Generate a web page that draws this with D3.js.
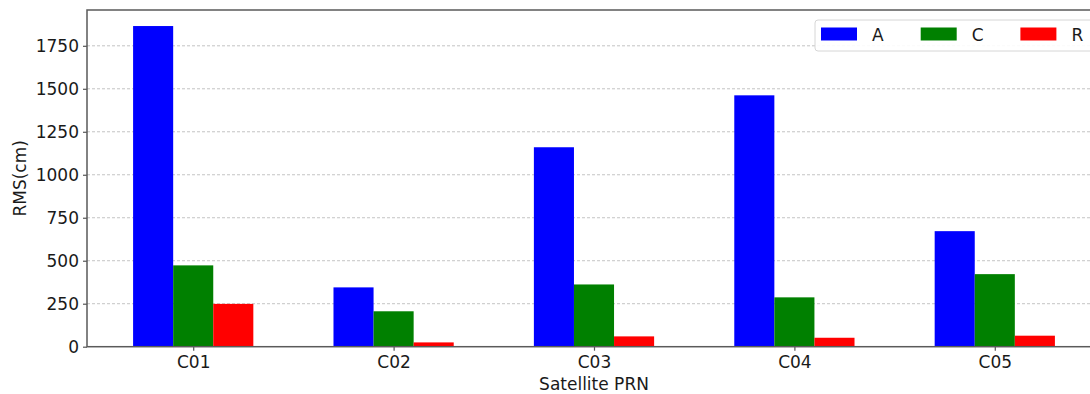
<!DOCTYPE html>
<html>
<head>
<meta charset="utf-8">
<script src="https://cdn.jsdelivr.net/npm/d3@7"></script>
<style>
  html, body { margin: 0; padding: 0; background: #fff; }
  svg { display: block; font-family: "DejaVu Sans", sans-serif; }
</style>
</head>
<body>
<svg id="chart" width="1090" height="394"></svg>
<script>
// RMS per satellite, in cm
const satellites = ["C01", "C02", "C03", "C04", "C05"];
const seriesNames = ["A", "C", "R"];
const seriesColors = ["#0000ff", "#008000", "#ff0000"];
const valuesA = [1865, 345, 1160, 1462, 672];
const valuesC = [473, 206, 362, 287, 422];
const valuesR = [249, 25, 60, 52, 64];
const yTicks = [0, 250, 500, 750, 1000, 1250, 1500, 1750];

const series = [valuesA, valuesC, valuesR];

const svg = d3.select("#chart");
const margin = { left: 87, top: 10, right: 1101, bottom: 346.7 };

// bar positions in category units: index + offset, width 0.2
const barW = 0.2;
const offsets = [-0.2, 0, 0.2];
const lo = -0.3, hi = satellites.length - 1 + 0.3;
const pad = (hi - lo) * 0.05;

const x = d3.scaleLinear().domain([lo - pad, hi + pad]).range([margin.left, margin.right]);
const yMax = d3.max(series.flat()) * 1.05;
const y = d3.scaleLinear().domain([0, yMax]).range([margin.bottom, margin.top]);

// horizontal grid
svg.append("g")
  .selectAll("line")
  .data(yTicks.filter(d => d > 0))
  .join("line")
  .attr("x1", margin.left).attr("x2", margin.right)
  .attr("y1", d => y(d)).attr("y2", d => y(d))
  .attr("stroke", "#c4c4c4")
  .attr("stroke-width", 1)
  .attr("stroke-dasharray", "3,2");

// bars
series.forEach((vals, si) => {
  svg.append("g")
    .selectAll("rect")
    .data(vals)
    .join("rect")
    .attr("x", (d, i) => x(i + offsets[si] - barW / 2))
    .attr("width", x(barW) - x(0))
    .attr("y", d => y(d))
    .attr("height", d => y(0) - y(d))
    .attr("fill", seriesColors[si]);
});

// axes
const yAxis = d3.axisLeft(y).tickValues(yTicks).tickSize(4).tickPadding(4).tickFormat(d3.format("d"));
const gy = svg.append("g").attr("transform", `translate(${margin.left},0)`).call(yAxis);
const xAxis = d3.axisBottom(x).tickValues(satellites.map((d, i) => i)).tickFormat(i => satellites[i]).tickSize(4).tickPadding(5);
const gx = svg.append("g").attr("transform", `translate(0,${margin.bottom})`).call(xAxis);

[gx, gy].forEach(g => {
  g.select(".domain").remove();
  g.selectAll(".tick line").attr("stroke", "#555").attr("stroke-width", 1.2);
  g.selectAll(".tick text").attr("fill", "#1a1a1a").style("font-size", "17px").style("font-family", "DejaVu Sans");
});

// frame
svg.append("rect")
  .attr("x", margin.left).attr("y", margin.top)
  .attr("width", margin.right - margin.left).attr("height", margin.bottom - margin.top)
  .attr("fill", "none").attr("stroke", "#5a5a5a").attr("stroke-width", 1.5);

// axis titles
svg.append("text")
  .attr("transform", `translate(20,${(margin.top + margin.bottom) / 2}) rotate(-90)`)
  .attr("text-anchor", "middle").attr("dominant-baseline", "central")
  .style("font-size", "17px").attr("fill", "#1a1a1a")
  .text("RMS(cm)");

svg.append("text")
  .attr("x", (margin.left + margin.right) / 2).attr("y", 390)
  .attr("text-anchor", "middle")
  .style("font-size", "17px").attr("fill", "#1a1a1a")
  .text("Satellite PRN");

// legend
const legend = svg.append("g").attr("transform", "translate(815,20)");
legend.append("rect")
  .attr("x", 0).attr("y", 0).attr("width", 282).attr("height", 31).attr("rx", 3)
  .attr("fill", "#fff").attr("fill-opacity", 0.9)
  .attr("stroke", "#d6d6d6").attr("stroke-width", 1);
seriesNames.forEach((name, i) => {
  const item = legend.append("g").attr("transform", `translate(${6 + i * 99.7},0)`);
  item.append("rect").attr("x", 0).attr("y", 7.5).attr("width", 36).attr("height", 13)
    .attr("fill", seriesColors[i]);
  item.append("text").attr("x", 51).attr("y", 20.5)
    .style("font-size", "17px").attr("fill", "#1a1a1a").text(name);
});
</script>
</body>
</html>
